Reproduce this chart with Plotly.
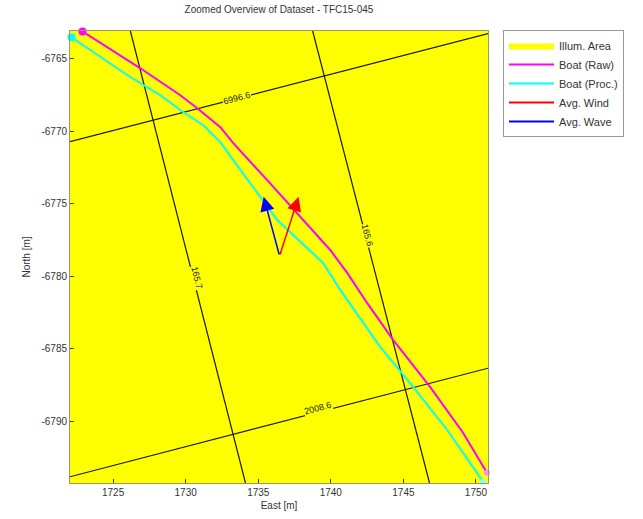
import math
import plotly.graph_objects as go

# ---------------- data ----------------
raw_e = [1722.89, 1726.88, 1729.63, 1730.80, 1732.39, 1733.28, 1735.62, 1737.89,
         1739.96, 1741.13, 1742.50, 1744.29, 1746.84, 1749.11, 1750.76]
raw_n = [-6763.12, -6765.66, -6767.52, -6768.41, -6769.72, -6770.82, -6773.37, -6775.91,
         -6778.18, -6779.76, -6781.83, -6784.38, -6787.61, -6790.78, -6793.53]

proc_e = [1722.13, 1723.65, 1725.99, 1728.26, 1729.84, 1731.22, 1732.39, 1733.28,
          1736.31, 1739.47, 1740.65, 1743.40, 1745.67, 1748.01, 1750.49]
proc_n = [-6763.52, -6764.56, -6766.14, -6767.52, -6768.69, -6769.58, -6770.75, -6771.99,
          -6776.12, -6779.08, -6780.93, -6784.86, -6787.61, -6790.57, -6794.15]

illum_e = [1700, 1770, 1770, 1700]
illum_n = [-6800, -6800, -6750, -6750]

# contour lines: endpoints (east, north) and label value / label position
contour_labels = ["165.7", "165.6", "6996.6", "2008.6"]
contour_e0 = [1726.19, 1738.75, 1722.03, 1722.03]
contour_n0 = [-6763.09, -6763.09, -6770.71, -6793.81]
contour_e1 = [1734.12, 1746.80, 1750.83, 1750.83]
contour_n1 = [-6794.24, -6794.24, -6763.27, -6786.33]
label_e = [1730.80, 1742.50, 1733.56, 1739.13]
label_n = [-6780.08, -6777.16, -6767.72, -6789.06]

# average wind / wave vectors (origin and tip)
vec_origin = (1736.47, -6778.60)
wind_tip = (1737.78, -6774.52)
wave_tip = (1735.37, -6774.52)

x_range = [1722.03, 1750.83]
y_range = [-6794.24, -6763.09]
x_ticks = [1725, 1730, 1735, 1740, 1745, 1750]
y_ticks = [-6790, -6785, -6780, -6775, -6770, -6765]
y_tick_text = ["-6790", "-6785", "-6780", "-6775", "-6770", "-6765"]

FONT = "Liberation Sans, Arial, sans-serif"
L, R, T, B = 70, 155, 31, 36
W, H = 643, 519
PW, PH = W - L - R, H - T - B

fig = go.Figure()

fig.add_trace(go.Scatter(x=illum_e, y=illum_n, fill="toself", fillcolor="#ffff00",
                         mode="lines", line=dict(width=0, color="#ffff00"),
                         name="Illum. Area", hoverinfo="skip"))

# contour lines
for i in range(len(contour_labels)):
    fig.add_trace(go.Scatter(x=[contour_e0[i], contour_e1[i]], y=[contour_n0[i], contour_n1[i]],
                             mode="lines", line=dict(color="#1a1a00", width=1.2),
                             showlegend=False, hoverinfo="skip"))

fig.add_trace(go.Scatter(x=raw_e, y=raw_n, mode="lines", line=dict(color="#ff00ff", width=2),
                         name="Boat (Raw)"))
fig.add_trace(go.Scatter(x=proc_e, y=proc_n, mode="lines", line=dict(color="#00ffff", width=2),
                         name="Boat (Proc.)"))
# start / end markers
for xs, ys, col, sz in [(raw_e[0], raw_n[0], "#ff00ff", 8), (proc_e[0], proc_n[0], "#00ffff", 8),
                        (raw_e[-1], raw_n[-1], "#ff88ff", 6), (proc_e[-1], proc_n[-1], "#88ffff", 6)]:
    fig.add_trace(go.Scatter(x=[xs], y=[ys], mode="markers", cliponaxis=False,
                             marker=dict(color=col, size=sz, line=dict(width=0)),
                             showlegend=False))

fig.add_trace(go.Scatter(x=[None], y=[None], mode="lines", line=dict(color="#ff0000", width=2),
                         name="Avg. Wind"))
fig.add_trace(go.Scatter(x=[None], y=[None], mode="lines", line=dict(color="#0000ff", width=2),
                         name="Avg. Wave"))

# contour labels, rotated along their lines
px_per_x = PW / (x_range[1] - x_range[0])
px_per_y = PH / (y_range[1] - y_range[0])
for i in range(len(contour_labels)):
    dx = (contour_e1[i] - contour_e0[i]) * px_per_x
    dy = -(contour_n1[i] - contour_n0[i]) * px_per_y
    ang = math.degrees(math.atan2(dy, dx))
    fig.add_annotation(x=label_e[i], y=label_n[i], text=contour_labels[i], showarrow=False,
                       textangle=ang, bgcolor="#ffff00", borderpad=0,
                       font=dict(family=FONT, size=9, color="#222222"))

# vectors
for tip, col in [(wind_tip, "#ff0000"), (wave_tip, "#0000ff")]:
    fig.add_annotation(x=tip[0], y=tip[1], ax=vec_origin[0], ay=vec_origin[1],
                       xref="x", yref="y", axref="x", ayref="y", text="",
                       showarrow=True, arrowhead=2, arrowsize=1.9, arrowwidth=1.5,
                       arrowcolor=col, standoff=0)

fig.update_layout(
    width=W, height=H,
    margin=dict(l=L, r=R, t=T, b=B, autoexpand=False),
    paper_bgcolor="white", plot_bgcolor="#ffff00",
    title=dict(text="Zoomed Overview of Dataset - TFC15-045", x=279 / W,
               xanchor="center", y=1 - 9 / H, yanchor="middle", automargin=False,
               font=dict(family=FONT, size=10, color="#333333")),
    font=dict(family=FONT, size=10, color="#333333"),
    showlegend=True,
    legend=dict(x=(503 - L) / PW, y=1 + 1 / PH, xanchor="left", yanchor="top",
                bgcolor="white", bordercolor="#999999", borderwidth=1,
                font=dict(family=FONT, size=11, color="#333333"),
                tracegroupgap=0, itemwidth=45),
    xaxis=dict(range=x_range, tickvals=x_ticks, ticks="inside", ticklen=4,
               showgrid=False, zeroline=False, showline=True, mirror=True,
               linecolor="#999966", linewidth=1, automargin=False,
               title=dict(text="East [m]", standoff=4, font=dict(size=10))),
    yaxis=dict(range=y_range, tickvals=y_ticks, ticktext=y_tick_text, ticks="inside",
               ticklen=4, showgrid=False, zeroline=False, showline=True, mirror=True,
               linecolor="#999966", linewidth=1, automargin=False,
               title=dict(text="North [m]", standoff=8, font=dict(size=10))),
)

fig.write_html("out.html", config={"displayModeBar": False},
               post_script="document.body.style.margin='0';")
